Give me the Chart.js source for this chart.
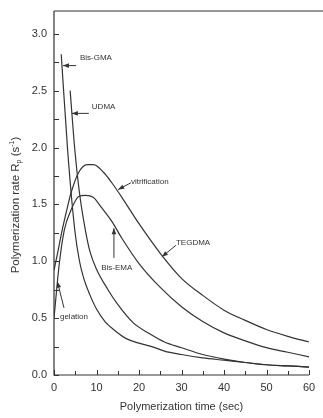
<!DOCTYPE html>
<html>
<head>
<meta charset="utf-8">
<script src="https://cdn.jsdelivr.net/npm/chart.js@4.4.1/dist/chart.umd.min.js"></script>
<style>
  html, body { margin: 0; padding: 0; background: #fff; }
  #wrap { width: 323px; height: 418px; position: relative; }
</style>
</head>
<body>
<div id="wrap"><canvas id="rateChart"></canvas></div>
<script>
// time (sec) / rate Rp (s^-1)
const tegdmaT  = [0, 1, 1.9, 3, 4, 5.8, 7.8, 9.3, 11.7, 13.6, 16, 20, 25, 30, 35, 40, 45, 50, 55, 60];
const tegdmaR  = [0.92, 1.1, 1.27, 1.45, 1.6, 1.78, 1.85, 1.85, 1.78, 1.69, 1.56, 1.33, 1.07, 0.85, 0.70, 0.57, 0.48, 0.40, 0.34, 0.29];
const bisemaT  = [0, 1.25, 2.4, 4, 5.8, 7.4, 9.3, 11, 13.6, 16, 20, 25, 30, 35, 40, 45, 50, 55, 60];
const bisemaR  = [0.5, 0.98, 1.27, 1.45, 1.57, 1.58, 1.56, 1.48, 1.35, 1.2, 0.98, 0.77, 0.60, 0.47, 0.37, 0.30, 0.24, 0.20, 0.16];
const bisgmaT  = [1.7, 3.2, 4.9, 6, 7, 8.5, 10, 12, 14, 17, 20, 23, 26, 30, 35, 40, 45, 50, 55, 60];
const bisgmaR  = [2.82, 1.98, 1.27, 1.0, 0.85, 0.70, 0.58, 0.47, 0.40, 0.32, 0.28, 0.25, 0.21, 0.18, 0.15, 0.13, 0.11, 0.09, 0.08, 0.07];
const udmaT    = [3.8, 4.9, 6, 7.4, 8.5, 10, 12.7, 15, 18.6, 22.6, 26, 30, 35, 40, 45, 50, 55, 60];
const udmaR    = [2.5, 1.98, 1.6, 1.27, 1.08, 0.93, 0.75, 0.62, 0.46, 0.36, 0.29, 0.24, 0.18, 0.14, 0.11, 0.09, 0.08, 0.07];

const xTickValues = [0, 10, 20, 30, 40, 50, 60];
const yTickValues = [0, 0.5, 1.0, 1.5, 2.0, 2.5, 3.0];

// text label + arrow (tail -> head), in data units
const notes = [
  { text: "Bis-GMA",       at: [6.1, 2.79],  from: [5.2, 2.72],  to: [2.1, 2.72] },
  { text: "UDMA",          at: [8.9, 2.36],  from: [8.2, 2.30],  to: [4.2, 2.30] },
  { text: "vitrification", at: [18.1, 1.70], from: [18.1, 1.69], to: [15.1, 1.63] },
  { text: "TEGDMA",        at: [28.7, 1.16], from: [28.7, 1.14], to: [25.4, 1.04] },
  { text: "Bis-EMA",       at: [11.1, 0.94], from: [14.1, 1.03], to: [14.1, 1.29] },
  { text: "gelation",      at: [1.4, 0.51],  from: [2.35, 0.59], to: [0.8, 0.82] }
];

const pts = (t, r) => t.map((v, i) => ({ x: v, y: r[i] }));
const ink = "#333";
const font = "'Liberation Sans', Arial, sans-serif";

const lineSet = (label, t, r) => ({
  label, data: pts(t, r), borderColor: ink, borderWidth: 1.2,
  pointRadius: 0, fill: false, cubicInterpolationMode: "monotone"
});

const decor = {
  id: "decor",
  afterDatasetsDraw(chart) {
    const { ctx, chartArea: a, scales: { x, y } } = chart;
    ctx.save();
    ctx.strokeStyle = ink;
    ctx.fillStyle = ink;
    ctx.lineWidth = 1.2;
    // axes + open top border
    ctx.beginPath();
    ctx.moveTo(a.left, a.top); ctx.lineTo(chart.width, a.top);
    ctx.moveTo(a.left, a.top); ctx.lineTo(a.left, a.bottom); ctx.lineTo(a.right, a.bottom);
    ctx.stroke();
    // inward ticks
    ctx.lineWidth = 1;
    ctx.beginPath();
    for (let v = 0; v <= 60; v += 5) {
      const px = Math.round(x.getPixelForValue(v)) + 0.5;
      ctx.moveTo(px, a.bottom); ctx.lineTo(px, a.bottom - (v % 10 === 0 ? 5 : 4));
    }
    for (let v = 0; v <= 3.0; v += 0.25) {
      const py = Math.round(y.getPixelForValue(v)) + 0.5;
      ctx.moveTo(a.left, py); ctx.lineTo(a.left + 5, py);
    }
    ctx.stroke();
    // notes
    ctx.font = "8px " + font;
    ctx.textBaseline = "middle";
    ctx.textAlign = "left";
    notes.forEach(n => {
      ctx.fillText(n.text, x.getPixelForValue(n.at[0]), y.getPixelForValue(n.at[1]));
      const x0 = x.getPixelForValue(n.from[0]), y0 = y.getPixelForValue(n.from[1]);
      const x1 = x.getPixelForValue(n.to[0]), y1 = y.getPixelForValue(n.to[1]);
      const ang = Math.atan2(y1 - y0, x1 - x0);
      ctx.beginPath(); ctx.moveTo(x0, y0); ctx.lineTo(x1, y1); ctx.stroke();
      ctx.beginPath();
      ctx.moveTo(x1, y1);
      ctx.lineTo(x1 - 6 * Math.cos(ang) + 2.3 * Math.sin(ang), y1 - 6 * Math.sin(ang) - 2.3 * Math.cos(ang));
      ctx.lineTo(x1 - 6 * Math.cos(ang) - 2.3 * Math.sin(ang), y1 - 6 * Math.sin(ang) + 2.3 * Math.cos(ang));
      ctx.closePath(); ctx.fill();
    });
    // axis titles
    ctx.font = "11px " + font;
    ctx.textAlign = "center";
    ctx.fillText("Polymerization time (sec)", (a.left + a.right) / 2, 407);
    ctx.translate(16, 205);
    ctx.rotate(-Math.PI / 2);
    const big = "11.5px " + font, small = "7px " + font;
    const parts = [["Polymerization rate R", big, 0], ["p", small, 3], [" (s", big, 0], ["-1", small, -4], [")", big, 0]];
    let w = 0;
    parts.forEach(p => { ctx.font = p[1]; w += ctx.measureText(p[0]).width; });
    let cx = -w / 2;
    ctx.textAlign = "left";
    parts.forEach(p => { ctx.font = p[1]; ctx.fillText(p[0], cx, p[2]); cx += ctx.measureText(p[0]).width; });
    ctx.restore();
  }
};

new Chart(document.getElementById("rateChart"), {
  type: "line",
  data: {
    datasets: [
      lineSet("TEGDMA", tegdmaT, tegdmaR),
      lineSet("Bis-EMA", bisemaT, bisemaR),
      lineSet("Bis-GMA", bisgmaT, bisgmaR),
      lineSet("UDMA", udmaT, udmaR)
    ]
  },
  options: {
    responsive: true, maintainAspectRatio: false, animation: false,
    layout: { padding: { top: 11, right: 14, left: 0, bottom: 0 } },
    plugins: { legend: { display: false }, tooltip: { enabled: false } },
    scales: {
      x: {
        type: "linear", min: 0, max: 60,
        grid: { display: false, drawTicks: false }, border: { display: false },
        afterBuildTicks: s => { s.ticks = xTickValues.map(v => ({ value: v })); },
        afterFit: s => { s.height = 43; s.paddingLeft = 0; s.paddingRight = 0; },
        ticks: { color: ink, padding: 6, font: { family: font, size: 11 } }
      },
      y: {
        type: "linear", min: 0, max: 3.2,
        grid: { display: false, drawTicks: false }, border: { display: false },
        afterBuildTicks: s => { s.ticks = yTickValues.map(v => ({ value: v })); },
        afterFit: s => { s.width = 54; s.paddingTop = 0; s.paddingBottom = 0; },
        ticks: { color: ink, padding: 7, font: { family: font, size: 11 },
                 callback: v => v.toFixed(1) }
      }
    }
  },
  plugins: [decor]
});
</script>
</body>
</html>
